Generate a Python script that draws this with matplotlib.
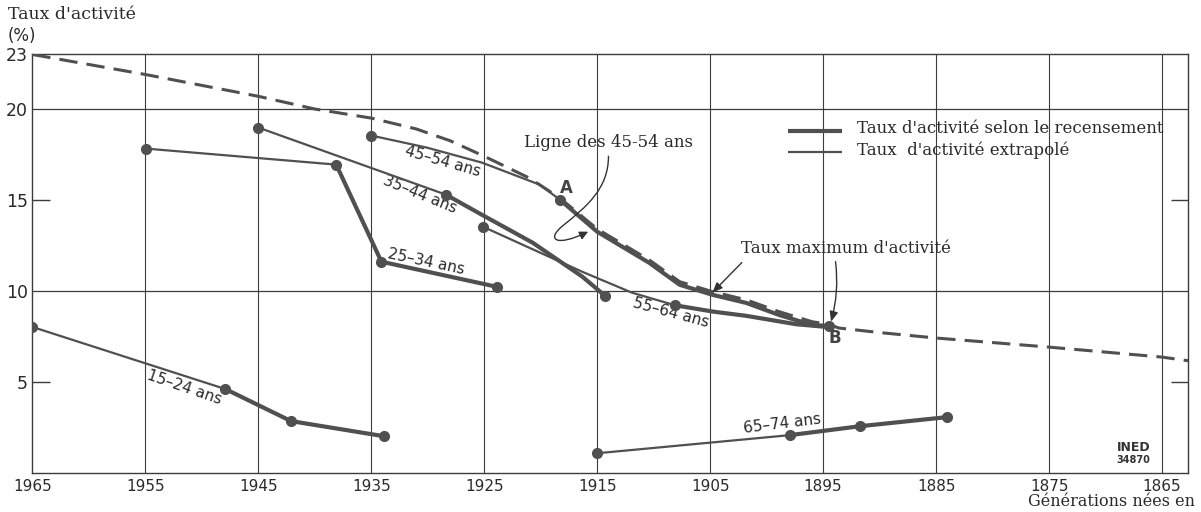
import matplotlib
matplotlib.use("Agg")
import matplotlib.pyplot as plt
from matplotlib.path import Path
from matplotlib.patches import FancyArrowPatch

# ---------------- data ----------------
env_years = [1965, 1955, 1945, 1940, 1935, 1931, 1928, 1925, 1921, 1918.3, 1915.0,
             1910.4, 1907.7, 1904.8, 1901.8, 1898.9, 1896.0, 1894.5, 1893.6, 1890,
             1885, 1875, 1865, 1862.7]
env_rates = [23.0, 21.9, 20.7, 20.0, 19.5, 18.9, 18.25, 17.4, 16.2, 15.1, 13.4,
             11.7, 10.5, 9.95, 9.5, 8.85, 8.3, 8.15, 7.95, 7.7,
             7.4, 6.9, 6.35, 6.15]

g1524_ext_years = [1965.0, 1947.9]
g1524_ext_rates = [8.01, 4.59]
g1524_cen_years = [1947.9, 1942.1, 1933.9]
g1524_cen_rates = [4.59, 2.83, 2.00]

g2534_ext_years = [1954.9, 1938.1]
g2534_ext_rates = [17.82, 16.94]
g2534_cen_years = [1938.1, 1934.1, 1923.9]
g2534_cen_rates = [16.94, 11.60, 10.22]

g3544_ext_years = [1945.0, 1928.4]
g3544_ext_rates = [18.98, 15.29]
g3544_cen_years = [1928.4, 1925.2, 1920.7, 1916.3, 1914.3]
g3544_cen_rates = [15.29, 14.18, 12.64, 10.77, 9.72]

g4554_ext_years = [1935.0, 1930.1, 1925.2, 1920.1, 1918.3]
g4554_ext_rates = [18.54, 17.88, 17.05, 15.84, 15.01]
g4554_cen_years = [1918.3, 1915.0, 1910.4, 1907.7, 1904.8, 1901.8, 1898.9, 1896.0, 1894.5]
g4554_cen_rates = [15.01, 13.25, 11.54, 10.33, 9.78, 9.33, 8.67, 8.12, 8.06]

g5564_ext_years = [1925.1, 1916.3, 1911.9, 1908.1]
g5564_ext_rates = [13.52, 11.04, 9.89, 9.20]
g5564_cen_years = [1908.1, 1904.7, 1901.8, 1897.4, 1894.5]
g5564_cen_rates = [9.20, 8.85, 8.62, 8.16, 8.00]

g6574_ext_years = [1915.0, 1897.9]
g6574_ext_rates = [1.06, 2.06]
g6574_cen_years = [1897.9, 1891.7, 1884.0]
g6574_cen_rates = [2.06, 2.55, 3.05]

dot_years = [1965.0, 1947.9, 1942.1, 1933.9,
             1954.9, 1938.1, 1934.1, 1923.9,
             1945.0, 1928.4, 1914.3,
             1935.0, 1918.3, 1894.5,
             1925.1, 1908.1,
             1915.0, 1897.9, 1891.7, 1884.0]
dot_rates = [8.01, 4.59, 2.83, 2.00,
             17.82, 16.94, 11.60, 10.22,
             18.98, 15.29, 9.72,
             18.54, 15.01, 8.06,
             13.52, 9.20,
             1.06, 2.06, 2.55, 3.05]

x_ticks = [1965, 1955, 1945, 1935, 1925, 1915, 1905, 1895, 1885, 1875, 1865]
y_ticks = [23, 20, 15, 10, 5]

group_labels = ["15–24 ans", "25–34 ans", "35–44 ans", "45–54 ans", "55–64 ans", "65–74 ans"]
label_years = [1951.5, 1930.1, 1930.7, 1928.7, 1908.5, 1898.6]
label_rates = [4.70, 11.60, 15.30, 17.10, 8.80, 2.66]
label_rot = [-19, -12, -22, -16, -15, 7]

# ---------------- figure ----------------
fig = plt.figure(figsize=(12.01, 5.12), dpi=100)
ax = fig.add_axes([0.0269, 0.0771, 0.9623, 0.8165])
ax.set_xlim(1965, 1862.7)
ax.set_ylim(0, 23)

LC = "#505050"
GC = "#3c3c3c"
THIN = 1.6
THICK = 3.0

for sp in ax.spines.values():
    sp.set_color(GC)
    sp.set_linewidth(1.0)

# grid
for yr in x_ticks[1:]:
    ax.axvline(yr, color=GC, lw=0.8, zorder=1)
for v in (10, 20):
    ax.axhline(v, color=GC, lw=0.9, zorder=1)
ytr = ax.get_yaxis_transform()
ax.hlines([15, 5], 0, 0.015, transform=ytr, color=GC, lw=1.0)
ax.hlines([15, 5], 0.985, 1.0, transform=ytr, color=GC, lw=1.0)

ax.set_xticks(x_ticks)
ax.set_xticklabels([str(t) for t in x_ticks], fontsize=11, color="#2a2a2a",
                   family="DejaVu Sans")
ax.set_yticks(y_ticks)
ax.set_yticklabels([str(t) for t in y_ticks], fontsize=12.5, color="#2a2a2a",
                   family="DejaVu Sans")
ax.tick_params(axis="both", length=0)
ax.tick_params(axis="x", pad=5)
ax.tick_params(axis="y", pad=3)

# envelope
ax.plot(env_years, env_rates, color=LC, lw=2.2, ls=(0, (6, 3)), zorder=3)

series = [
    (g1524_ext_years, g1524_ext_rates, g1524_cen_years, g1524_cen_rates),
    (g2534_ext_years, g2534_ext_rates, g2534_cen_years, g2534_cen_rates),
    (g3544_ext_years, g3544_ext_rates, g3544_cen_years, g3544_cen_rates),
    (g4554_ext_years, g4554_ext_rates, g4554_cen_years, g4554_cen_rates),
    (g5564_ext_years, g5564_ext_rates, g5564_cen_years, g5564_cen_rates),
    (g6574_ext_years, g6574_ext_rates, g6574_cen_years, g6574_cen_rates),
]
for ex, ey, cx, cy in series:
    ax.plot(ex, ey, color=LC, lw=THIN, zorder=4, solid_capstyle="round")
    ax.plot(cx, cy, color=LC, lw=THICK, zorder=4, solid_capstyle="round",
            solid_joinstyle="round")
ax.plot(dot_years, dot_rates, ls="none", marker="o", ms=7, color=LC, zorder=5)

for lab, lx, ly, rot in zip(group_labels, label_years, label_rates, label_rot):
    ax.text(lx, ly, lab, rotation=rot, rotation_mode="anchor", ha="center",
            va="center", fontsize=11, color="#2a2a2a", family="DejaVu Sans")

# A / B
ax.text(1917.7, 15.67, "A", fontsize=12, fontweight="bold", color="#444444",
        ha="center", va="center", family="DejaVu Sans")
ax.text(1894.0, 7.40, "B", fontsize=12, fontweight="bold", color="#444444",
        ha="center", va="center", family="DejaVu Sans")

SERIF = "DejaVu Serif"
# annotation: Ligne des 45-54 ans
ax.text(1914.0, 18.15, "Ligne des 45-54 ans", fontsize=12, family=SERIF,
        color="#2a2a2a", ha="center", va="center")
verts = [(1914.0, 17.4), (1914.0, 15.6), (1916.0, 14.6), (1918.0, 13.6),
         (1919.6, 12.8), (1918.6, 12.4), (1915.8, 13.25)]
codes = [Path.MOVETO, Path.CURVE4, Path.CURVE4, Path.CURVE4,
         Path.CURVE4, Path.CURVE4, Path.CURVE4]
arr = FancyArrowPatch(path=Path(verts, codes), arrowstyle="-|>,head_length=5,head_width=2.5",
                      color="#333333", lw=1.0, zorder=6)
ax.add_patch(arr)

# annotation: Taux maximum d'activité
ax.text(1893.0, 12.35, "Taux maximum d'activité", fontsize=12, family=SERIF,
        color="#2a2a2a", ha="center", va="center")
ax.annotate("", xy=(1904.8, 9.9), xytext=(1902.2, 11.55),
            arrowprops=dict(arrowstyle="-|>,head_length=0.6,head_width=0.25",
                            color="#333333", lw=1.0, shrinkA=0, shrinkB=0))
ax.annotate("", xy=(1894.3, 8.3), xytext=(1893.9, 11.6),
            arrowprops=dict(arrowstyle="-|>,head_length=0.6,head_width=0.25",
                            color="#333333", lw=1.0, shrinkA=0, shrinkB=0,
                            connectionstyle="arc3,rad=-0.1"))

# legend (manual)
atr = ax.transAxes
ax.plot([0.6539, 0.7008], [0.818, 0.818], transform=atr, color=LC, lw=THICK,
        solid_capstyle="butt")
ax.plot([0.6539, 0.7008], [0.766, 0.766], transform=atr, color=LC, lw=THIN,
        solid_capstyle="butt")
ax.text(0.7136, 0.822, "Taux d'activité selon le recensement", transform=atr,
        fontsize=12, family=SERIF, color="#2a2a2a", va="center", ha="left")
ax.text(0.7136, 0.770, "Taux  d'activité extrapolé", transform=atr,
        fontsize=12, family=SERIF, color="#2a2a2a", va="center", ha="left")

# logo
ax.text(1866.0, 1.0, "INED", fontsize=9, family="DejaVu Sans", color="#333333",
        ha="right", va="bottom", fontweight="bold")
ax.text(1866.0, 0.4, "34870", fontsize=7, family="DejaVu Sans", color="#333333",
        ha="right", va="bottom", fontweight="bold")

# axis titles
fig.text(0.0067, 0.971, "Taux d'activité", fontsize=12.5, family=SERIF,
         color="#2a2a2a", ha="left", va="center")
fig.text(0.0067, 0.930, "(%)", fontsize=12, family="DejaVu Sans",
         color="#2a2a2a", ha="left", va="center")
fig.text(0.995, 0.004, "Générations nées en", fontsize=11.5, family=SERIF,
         color="#2a2a2a", ha="right", va="bottom")

fig.savefig("out.png", dpi=100, facecolor="white")
